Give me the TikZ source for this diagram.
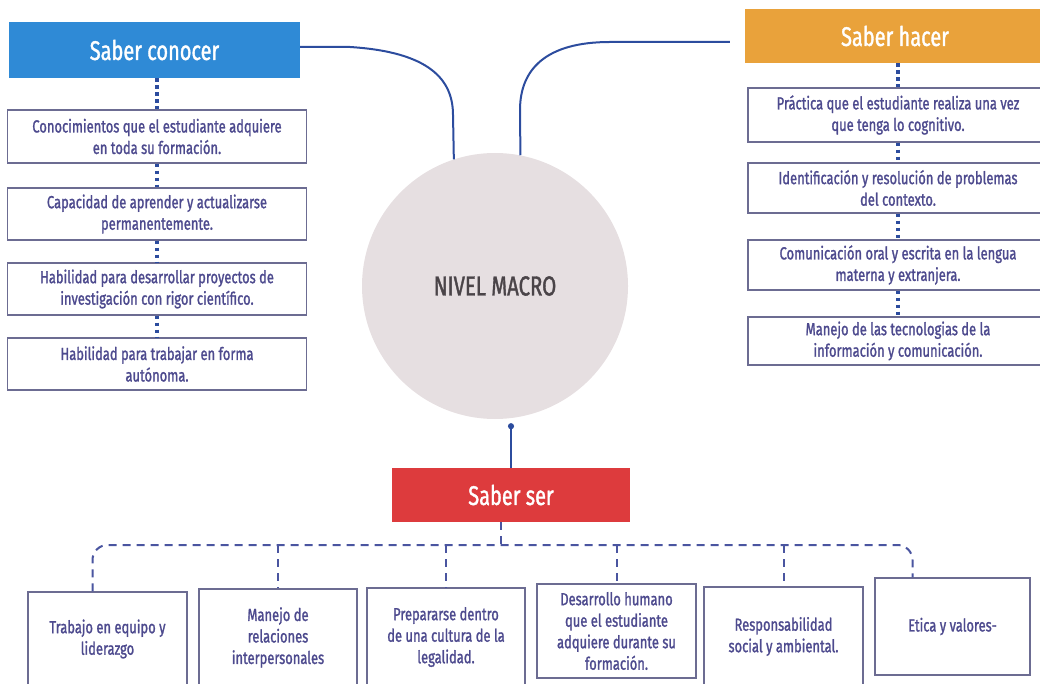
\documentclass[tikz,border=0pt]{standalone}
\usepackage{fontspec}
\setmainfont{Fira Sans}
\newfontfamily\condfont[FakeStretch=0.74, FakeBold=1.3]{Fira Sans}
\usetikzlibrary{arrows.meta, positioning, calc}
\definecolor{conocerblue}{HTML}{2F8AD6}
\definecolor{hacerorange}{HTML}{E9A23B}
\definecolor{serred}{HTML}{DD3B3D}
\definecolor{macrogray}{HTML}{E6DFE1}
\definecolor{macrotext}{HTML}{4A4448}
\definecolor{linkblue}{HTML}{2C4C9E}
\definecolor{textblue}{HTML}{4D4A8E}
\definecolor{boxline}{HTML}{6C6C92}
\definecolor{busblue}{HTML}{4A55A0}

\begin{document}
\begin{tikzpicture}[x=1pt, y=-1pt,
		header/.style={inner sep=0pt, text=white, font=\condfont\fontsize{27}{30}\selectfont},
		item/.style={draw=boxline, line width=1.1pt, fill=white, inner sep=2pt, align=center, text=textblue, font=\condfont\fontsize{17.5}{21.5}\selectfont},
		dotlink/.style={linkblue, line width=3.8pt, dash pattern=on 3.5pt off 3.5pt},
		dashlink/.style={busblue, line width=2pt, dash pattern=on 8pt off 6pt},
		curvelink/.style={linkblue, line width=2pt}]
		\useasboundingbox (0,0) rectangle (1040,684);
		
		% centre and headers
		\node[circle, fill=macrogray, minimum size=266pt, inner sep=0pt, text=macrotext, font=\condfont\fontsize{27.5}{30}\selectfont] (macro) at (495,286) {NIVEL MACRO};
		\draw (154.5,50) node[header, fill=conocerblue, minimum width=291pt, minimum height=56pt] (conocer) {Saber conocer}
		(895,36) node[header, fill=hacerorange, minimum width=300pt, minimum height=54pt] (hacer) {Saber hacer}
		(511,495) node[header, fill=serred, minimum width=238pt, minimum height=54pt] (ser) {Saber ser};
		
		% saber conocer
		\draw (157,136.5) node[item, minimum width=299pt, minimum height=53pt] (c1) {Conocimientos que el estudiante adquiere\\en toda su formación.}
		(157,214) node[item, minimum width=299pt, minimum height=52pt] (c2) {Capacidad de aprender y actualizarse\\permanentemente.}
		(157,289) node[item, minimum width=299pt, minimum height=52pt] (c3) {Habilidad para desarrollar proyectos de\\investigación con rigor científico.}
		(157,364) node[item, minimum width=299pt, minimum height=52pt] (c4) {Habilidad para trabajar en forma\\autónoma.};
		
		% saber hacer
		\draw (898,115) node[item, minimum width=300pt, minimum height=54pt] (h1) {Práctica que el estudiante realiza una vez\\que tenga lo cognitivo.}
		(898,188) node[item, minimum width=300pt, minimum height=50pt] (h2) {Identificación y resolución de problemas\\del contexto.}
		(898,265) node[item, minimum width=300pt, minimum height=50pt] (h3) {Comunicación oral y escrita en la lengua\\materna y extranjera.}
		(898,341) node[item, minimum width=300pt, minimum height=48pt] (h4) {Manejo de las tecnologias de la\\información y comunicación.};
		
		% saber ser
		\draw (107.5,639) node[item, minimum width=159pt, minimum height=94pt] (s1) {Trabajo en equipo y\\liderazgo}
		(278,637.5) node[item, minimum width=158pt, minimum height=97pt] (s2) {Manejo de\\relaciones\\interpersonales}
		(446,637) node[item, minimum width=158pt, minimum height=98pt] (s3) {Prepararse dentro\\de una cultura de la\\legalidad.}
		(616.5,631) node[item, minimum width=159pt, minimum height=94pt] (s4) {Desarrollo humano\\que el estudiante\\adquiere durante su\\formación.}
		(783.5,636.5) node[item, minimum width=159pt, minimum height=99pt] (s5) {Responsabilidad\\social y ambiental.}
		(952.5,626.5) node[item, minimum width=155pt, minimum height=97pt] (s6) {Etica y valores-};
		
		% links to the centre
		\draw[curvelink] (conocer.east |- 0,47) -- (350,47) .. controls (430,52) and (453,80) .. (453,115) -- (macro.108.4);
		\draw[curvelink, shorten >=15pt] (macro.79.2) -- (520,110) .. controls (520,70) and (545,42) .. (610,42) -- (hacer.west |- 0,42);
		\draw[curvelink, {Circle[length=6pt]}-] ([yshift=-4pt]ser.north |- macro.south) -- (ser.north);
		
		% dotted stacks
		\foreach \a/\b in {conocer/c1, c1/c2, c2/c3, c3/c4, hacer/h1, h1/h2, h2/h3, h3/h4}
		\draw[dotlink] (\b.north |- \a.south) -- (\b.north);
		
		% dashed bus
		\coordinate (bus) at (0,545);
		\draw[dashlink, rounded corners=15pt] ([xshift=-15pt]s1.north) -- ([xshift=-15pt]s1.north |- bus) -- ([xshift=-40pt]s6.north |- bus) -- ([xshift=-40pt]s6.north);
		\draw[dashlink] ([xshift=-10pt]ser.south) -- ([xshift=-10pt]ser.south |- bus);
		\foreach \n in {s2, s3, s4, s5}
		\draw[dashlink] (\n.north |- bus) -- (\n.north);
	\end{tikzpicture}
\end{document}
